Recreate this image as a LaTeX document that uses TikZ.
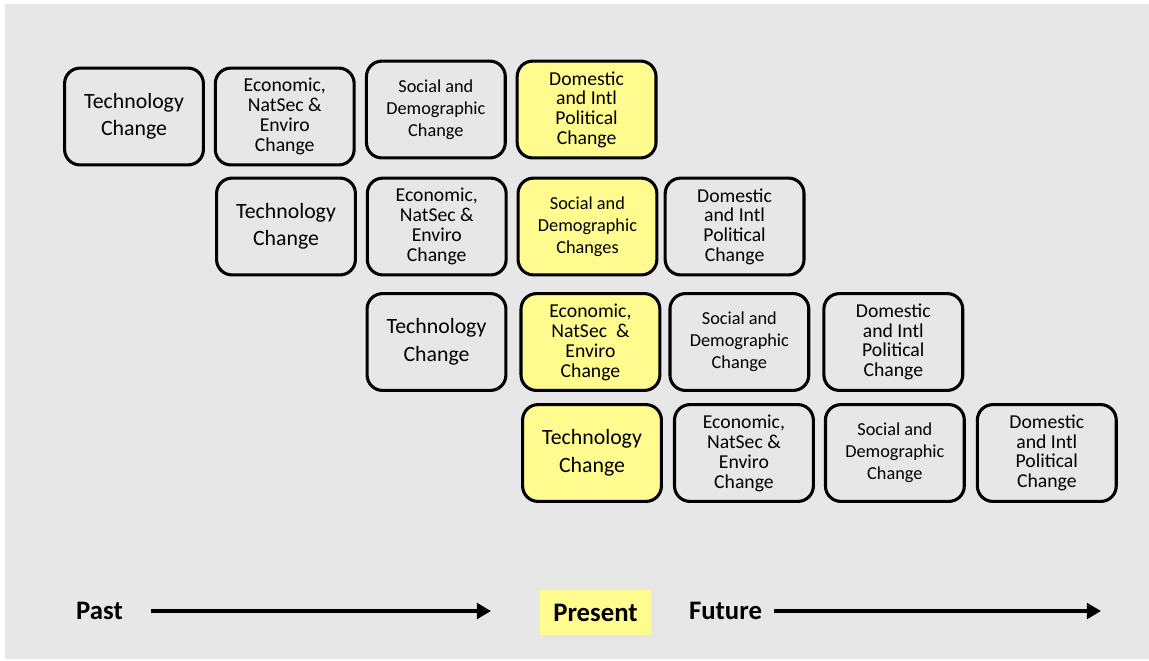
\documentclass[tikz,border=0pt]{standalone}
\usepackage{fontspec}
\setmainfont{Carlito}
\usetikzlibrary{arrows.meta,positioning}
\definecolor{bggray}{HTML}{E7E7E7}
\definecolor{nowyellow}{HTML}{FFFB8F}

\begin{document}
\begin{tikzpicture}[x=0.025cm,y=-0.025cm,
   chg/.style={draw,line width=2.2pt,rounded corners=11pt,fill=bggray,minimum width=3.47cm,
             minimum height=2.42cm,align=center,inner sep=1pt},
   now/.style={fill=nowyellow},
   tech/.style={font=\fontsize{15.5}{19.5}\selectfont},
   econ/.style={font=\fontsize{14}{14.2}\selectfont},
   soc/.style={font=\fontsize{13}{15.6}\selectfont},
   dom/.style={font=\fontsize{14}{14}\selectfont},
   era/.style={font=\fontsize{19}{22}\bfseries\selectfont},
   timeline/.style={line width=2.8pt,-{Triangle[length=10pt,width=11pt]}}]
  \useasboundingbox (0,0) rectangle (1149,660);
  \fill[bggray] (5,4) rectangle (1149,659);

  % first row: the oldest wave
  \node[chg,tech] (tech1) at (134,116.5) {Technology\\Change};
  \node[chg,econ,right=2.2mm of tech1] (econ1) {Economic,\\NatSec \&\\Enviro\\Change};
  \node[chg,soc,right=2.3mm of econ1,yshift=1.75mm] (soc1) {Social and\\Demographic\\Change};
  \node[chg,dom,now,right=2.2mm of soc1] (dom1) {Domestic\\and Intl\\Political\\Change};

  % second row
  \node[chg,tech] (tech2) at (286,226.5) {Technology\\Change};
  \node[chg,econ,right=2.2mm of tech2] (econ2) {Economic,\\NatSec \&\\Enviro\\Change};
  \node[chg,soc,now,right=2.2mm of econ2] (soc2) {Social and\\Demographic\\Changes};
  \node[chg,dom,right=1.3mm of soc2] (dom2) {Domestic\\and Intl\\Political\\Change};

  % third row
  \node[chg,tech] (tech3) at (436.5,342) {Technology\\Change};
  \node[chg,econ,now,right=3mm of tech3] (econ3) {Economic,\\NatSec \ \&\\Enviro\\Change};
  \node[chg,soc,right=1.75mm of econ3] (soc3) {Social and\\Demographic\\Change};
  \node[chg,dom,right=3mm of soc3] (dom3) {Domestic\\and Intl\\Political\\Change};

  % fourth row: the newest wave
  \node[chg,tech,now] (tech4) at (592,453) {Technology\\Change};
  \node[chg,econ,right=2.5mm of tech4] (econ4) {Economic,\\NatSec \&\\Enviro\\Change};
  \node[chg,soc,right=2.25mm of econ4] (soc4) {Social and\\Demographic\\Change};
  \node[chg,dom,right=2.5mm of soc4] (dom4) {Domestic\\and Intl\\Political\\Change};

  % time axis
  \node[era] (past) at (99.5,611) {Past};
  \coordinate (pastend) at (491,611);
  \node[era,fill=nowyellow,minimum width=2.78cm,minimum height=1.125cm] (present)
       at (595.5,612.5) {Present};
  \node[era] (future) at (725.5,611) {Future};
  \coordinate (futureend) at (1101,611);
  \draw[timeline,shorten <=5.8mm] (past) -- (pastend);
  \draw[timeline,shorten <=1.7mm] (future) -- (futureend);
\end{tikzpicture}
\end{document}
